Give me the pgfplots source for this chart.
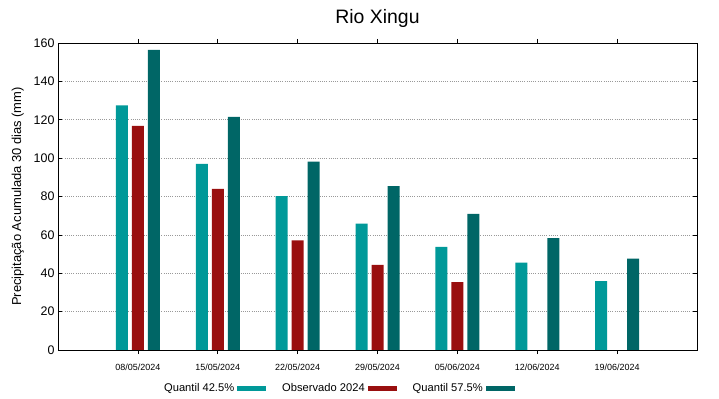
\documentclass[border=0pt]{standalone}
\usepackage{fontspec}
\setmainfont{Liberation Sans}
\usepackage{pgfplots}
\pgfplotsset{compat=1.18}
\definecolor{qa}{HTML}{009999}
\definecolor{obs}{HTML}{990F0F}
\definecolor{qb}{HTML}{006666}
\begin{document}
\begin{tikzpicture}
\useasboundingbox (0,0) rectangle (719bp,399bp);
\begin{axis}[
  at={(58bp,49bp)}, anchor=south west,
  scale only axis, width=639bp, height=307bp,
  xmin=-1, xmax=7, ymin=0, ymax=160,
  xtick={0,...,6},
  xticklabels={08/05/2024,15/05/2024,22/05/2024,29/05/2024,05/06/2024,12/06/2024,19/06/2024},
  ytick={0,20,...,160},
  /pgf/number format/assume math mode=true,
  yticklabel style={font=\fontsize{12.5}{14}\selectfont},
  xticklabel style={font=\fontsize{9}{11}\selectfont, yshift=-6bp},
  ymajorgrids,
  grid style={gray!80, dash pattern=on 1bp off 1.2bp, line width=0.5bp},
  tick align=inside, major tick length=4bp,
  tick style={black, line width=0.6bp},
  axis line style={line width=0.7bp},
  ylabel={Precipitação Acumulada 30 dias (mm)},
  ylabel style={font=\fontsize{13}{15}\selectfont, yshift=3bp},
  title={Rio Xingu},
  title style={font=\fontsize{19.5}{22}\selectfont, yshift=6bp},
  ybar=4bp, bar width=12bp,
  legend plot pos=right,
  legend columns=3,
  legend style={at={(0.158,-0.124)}, anchor=west, draw=none, fill=none,
    font=\fontsize{11.2}{13}\selectfont,
    /tikz/every odd column/.append style={column sep=1bp},
    /tikz/every even column/.append style={column sep=14bp}},
  legend image code/.code={\fill[#1] (0bp,-2.5bp) rectangle (29bp,2.5bp);},
]
\addplot[fill=qa, draw=none] coordinates {(0,127.5) (1,97.0) (2,80.2) (3,65.8) (4,53.8) (5,45.5) (6,35.9)};
\addlegendentry{Quantil 42.5\%}
\addplot[fill=obs, draw=none] coordinates {(0,116.8) (1,84.0) (2,57.1) (3,44.3) (4,35.4)};
\addlegendentry{Observado 2024}
\addplot[fill=qb, draw=none] coordinates {(0,156.4) (1,121.5) (2,98.2) (3,85.4) (4,71.0) (5,58.3) (6,47.6)};
\addlegendentry{Quantil 57.5\%}
\end{axis}
\end{tikzpicture}
\end{document}
